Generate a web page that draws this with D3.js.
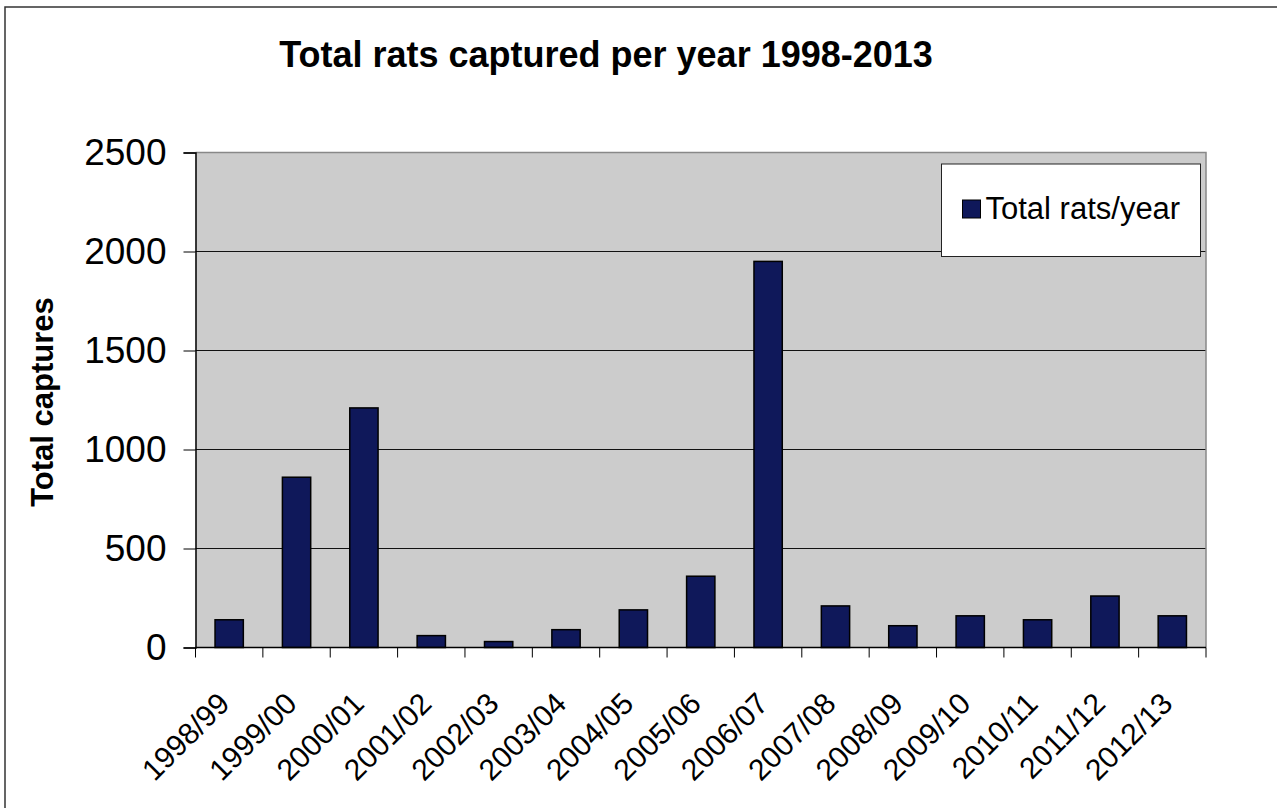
<!DOCTYPE html>
<html>
<head>
<meta charset="utf-8">
<script src="https://cdn.jsdelivr.net/npm/d3@7"></script>
<style>
  html, body { margin: 0; padding: 0; background: #fff; }
  svg { display: block; font-family: "Liberation Sans", Arial, sans-serif; }
</style>
</head>
<body>
<svg id="chart" width="1277" height="808"></svg>
<script>
const seasons = ["1998/99", "1999/00", "2000/01", "2001/02", "2002/03", "2003/04", "2004/05",
    "2005/06", "2006/07", "2007/08", "2008/09", "2009/10", "2010/11", "2011/12", "2012/13"];
const totalRats = [140, 860, 1210, 60, 30, 90, 190, 360, 1950, 210, 110, 160, 140, 260, 160];
const yTicks = [0, 500, 1000, 1500, 2000, 2500];

const width = 1277;
const height = 808;
const plot = { left: 195.5, right: 1206, top: 152.5, bottom: 647.5 };

const svg = d3.select("#chart");

// outer chart frame (runs off the right and bottom)
svg.append("rect")
    .attr("x", 5).attr("y", 7)
    .attr("width", width + 20).attr("height", height + 20)
    .attr("fill", "#fff")
    .attr("stroke", "#333")
    .attr("stroke-width", 1.5);

const x = d3.scaleBand()
    .domain(seasons)
    .range([plot.left, plot.right])
    .padding(0);

const y = d3.scaleLinear()
    .domain([0, 2500])
    .range([plot.bottom, plot.top]);

// plot background
svg.append("rect")
    .attr("x", plot.left).attr("y", plot.top)
    .attr("width", plot.right - plot.left)
    .attr("height", plot.bottom - plot.top)
    .attr("fill", "#cccccc");

// gridlines
svg.append("g")
    .selectAll("line")
    .data(yTicks.filter(d => d > 0 && d < 2500))
    .join("line")
    .attr("x1", plot.left).attr("x2", plot.right)
    .attr("y1", d => y(d)).attr("y2", d => y(d))
    .attr("stroke", "#111")
    .attr("stroke-width", 1);

// top and right border of the plot area
svg.append("path")
    .attr("d", `M${plot.left},${plot.top}H${plot.right}V${plot.bottom}`)
    .attr("fill", "none")
    .attr("stroke", "#888")
    .attr("stroke-width", 1.5);

// bars
const barW = x.bandwidth() * 0.42;
svg.append("g")
    .selectAll("rect")
    .data(seasons.map((s, i) => ({ s, v: totalRats[i] })))
    .join("rect")
    .attr("x", d => x(d.s) + (x.bandwidth() - barW) / 2)
    .attr("y", d => y(d.v))
    .attr("width", barW)
    .attr("height", d => y(0) - y(d.v))
    .attr("fill", "#0f185a")
    .attr("stroke", "#000")
    .attr("stroke-width", 1.5);

// y axis
const yAxis = svg.append("g")
    .attr("transform", `translate(${plot.left},0)`)
    .call(d3.axisLeft(y).tickValues(yTicks).tickFormat(d3.format("d")).tickSize(12).tickPadding(17));
yAxis.select(".domain").attr("stroke", "#000").attr("stroke-width", 1.5);
yAxis.selectAll(".tick line").attr("stroke", "#000");
yAxis.selectAll(".tick text")
    .attr("font-size", 37)
    .attr("fill", "#000")
    .attr("font-family", "Liberation Sans, Arial, sans-serif");

// x axis with ticks on category boundaries
const xAxis = svg.append("g")
    .attr("transform", `translate(0,${plot.bottom})`);
xAxis.append("line")
    .attr("x1", plot.left).attr("x2", plot.right)
    .attr("stroke", "#000").attr("stroke-width", 1.5);
xAxis.selectAll(".xtick")
    .data(seasons.concat(["end"]))
    .join("line")
    .attr("class", "xtick")
    .attr("x1", (d, i) => plot.left + i * x.step())
    .attr("x2", (d, i) => plot.left + i * x.step())
    .attr("y1", 0).attr("y2", 10)
    .attr("stroke", "#000");
xAxis.selectAll(".xlabel")
    .data(seasons)
    .join("text")
    .attr("class", "xlabel")
    .attr("text-anchor", "end")
    .attr("font-size", 30)
    .attr("fill", "#000")
    .attr("transform", d => `translate(${x(d) + x.bandwidth() / 2 + 2},${58}) rotate(-45)`)
    .text(d => d);

// titles
svg.append("text")
    .attr("x", 606).attr("y", 67)
    .attr("text-anchor", "middle")
    .attr("font-size", 36)
    .attr("font-weight", "bold")
    .text("Total rats captured per year 1998-2013");

svg.append("text")
    .attr("transform", `translate(53,402) rotate(-90)`)
    .attr("text-anchor", "middle")
    .attr("font-size", 31)
    .attr("font-weight", "bold")
    .text("Total captures");

// legend
const legend = svg.append("g").attr("transform", "translate(941.5,164)");
legend.append("rect")
    .attr("width", 259).attr("height", 92.5)
    .attr("fill", "#fff")
    .attr("stroke", "#222")
    .attr("stroke-width", 1);
legend.append("rect")
    .attr("x", 21).attr("y", 36)
    .attr("width", 18).attr("height", 18)
    .attr("fill", "#0f185a")
    .attr("stroke", "#000")
    .attr("stroke-width", 1);
legend.append("text")
    .attr("x", 44).attr("y", 55)
    .attr("font-size", 31)
    .attr("fill", "#000")
    .text("Total rats/year");
</script>
</body>
</html>
